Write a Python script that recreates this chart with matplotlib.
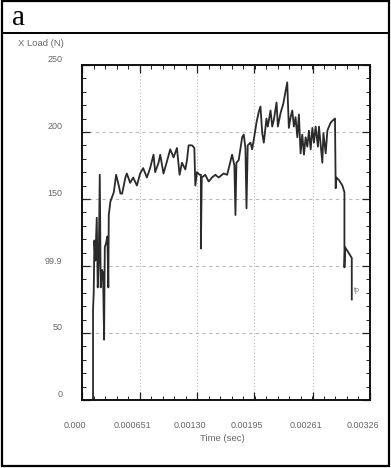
import numpy as np
import matplotlib
matplotlib.use("Agg")
import matplotlib.pyplot as plt
from matplotlib.ticker import FixedLocator, MultipleLocator
from matplotlib.transforms import ScaledTranslation
from matplotlib.patches import Rectangle
from matplotlib.lines import Line2D

# Datos (tiempo en s, carga en N)
time_s = [
    0.000125, 0.000125, 0.000133, 0.000140, 0.000151, 0.000167, 0.000178, 0.000189,
    0.000201, 0.000212, 0.000227, 0.000238, 0.000250, 0.000258, 0.000272, 0.000287,
    0.000298, 0.000303, 0.000321, 0.000332, 0.000360, 0.000378, 0.000386, 0.000416,
    0.000435, 0.000454, 0.000473, 0.000491, 0.000507, 0.000545, 0.000579, 0.000621,
    0.000658, 0.000692, 0.000734, 0.000771, 0.000809, 0.000828, 0.000866, 0.000885,
    0.000922, 0.000961, 0.000998, 0.001036, 0.001074, 0.001104, 0.001131, 0.001169,
    0.001188, 0.001206, 0.001245, 0.001271, 0.001282, 0.001301, 0.001331, 0.001345,
    0.001345, 0.001355, 0.001395, 0.001433, 0.001471, 0.001509, 0.001546, 0.001603,
    0.001642, 0.001698, 0.001724, 0.001736, 0.001747, 0.001773, 0.001812, 0.001830,
    0.001849, 0.001861, 0.001875, 0.001906, 0.001925, 0.001943, 0.001974, 0.002000,
    0.002019, 0.002039, 0.002057, 0.002087, 0.002102, 0.002133, 0.002152, 0.002170,
    0.002201, 0.002216, 0.002246, 0.002277, 0.002303, 0.002322, 0.002340, 0.002360,
    0.002379, 0.002397, 0.002416, 0.002436, 0.002454, 0.002473, 0.002492, 0.002511,
    0.002530, 0.002549, 0.002567, 0.002587, 0.002606, 0.002624, 0.002643, 0.002669,
    0.002681, 0.002719, 0.002731, 0.002757, 0.002776, 0.002794, 0.002814, 0.002844,
    0.002862, 0.002870, 0.002878, 0.002908, 0.002946, 0.002969, 0.002969, 0.002976,
    0.003014, 0.003052, 0.003052,
]
load_n = [
    0, 67, 81, 119, 104, 136, 84, 102,
    168, 84, 97, 95, 45, 114, 117, 122,
    84, 138, 148, 150, 155, 164, 168, 160,
    154, 154, 160, 166, 169, 162, 166, 160,
    169, 173, 166, 173, 183, 170, 177, 183,
    169, 178, 187, 181, 188, 168, 177, 172,
    179, 190, 190, 188, 160, 170, 168, 168,
    113, 166, 168, 163, 166, 168, 166, 169,
    168, 183, 175, 138, 177, 179, 196, 198,
    188, 143, 190, 192, 187, 194, 207, 215,
    219, 199, 192, 210, 204, 216, 204, 209,
    222, 204, 214, 221, 230, 237, 203, 211,
    216, 204, 211, 196, 213, 184, 198, 183,
    196, 189, 201, 187, 203, 192, 204, 189,
    204, 177, 199, 184, 201, 204, 207, 209,
    210, 158, 166, 164, 160, 155, 99, 114,
    110, 106, 75,
]

x_ticks = [0.0, 0.000651, 0.00130, 0.00195, 0.00261, 0.00326]
x_tick_labels = ["0.000", "0.000651", "0.00130", "0.00195", "0.00261", "0.00326"]
y_ticks = [0, 50, 99.9, 150, 200, 250]
y_tick_labels = ["0", "50", "99.9", "150", "200", "250"]

plt.rcParams["font.family"] = ["Liberation Sans", "DejaVu Sans"]
GREY = "#666666"

fig = plt.figure(figsize=(3.91, 4.68), dpi=100)
ax = fig.add_axes([0.2097, 0.1453, 0.737, 0.716])

ax.plot(time_s, load_n, color="#2a2a2a", linewidth=1.3)
ax.text(0.003075, 82, "tp", fontsize=5, color="#777777", va="center")

ax.set_xlim(0, 0.00326)
ax.set_ylim(0, 250)

ax.xaxis.set_major_locator(FixedLocator(x_ticks))
ax.xaxis.set_minor_locator(MultipleLocator(0.000651 / 5))
ax.set_xticklabels(x_tick_labels)
ax.yaxis.set_major_locator(FixedLocator(y_ticks))
ax.yaxis.set_minor_locator(MultipleLocator(10))
ax.set_yticklabels(y_tick_labels)

ax.tick_params(which="both", direction="in", top=True, right=True, color="#222222")
ax.tick_params(which="major", length=6, width=0.9, labelsize=6.5, labelcolor=GREY)
ax.tick_params(which="minor", length=3, width=0.7)
ax.tick_params(axis="y", pad=14)
ax.tick_params(axis="x", pad=15)

# desplazar etiquetas como en el original
for lab in ax.get_xticklabels():
    lab.set_transform(lab.get_transform() + ScaledTranslation(-7 / 100, 0, fig.dpi_scale_trans))
for lab in ax.get_yticklabels():
    lab.set_transform(lab.get_transform() + ScaledTranslation(0, 6 / 100, fig.dpi_scale_trans))

for yv in y_ticks[1:-1]:
    ax.axhline(yv, color="#bbbbbb", linewidth=0.8, linestyle=(0, (3, 3)), zorder=0)
for xv in x_ticks[1:-1]:
    ax.axvline(xv, color="#bbbbbb", linewidth=0.8, linestyle=(0, (1, 2)), zorder=0)

for sp in ax.spines.values():
    sp.set_linewidth(1.4)
    sp.set_color("#111111")

fig.text(0.046, 0.906, "X Load (N)", fontsize=6.8, color=GREY, va="center", ha="left")
fig.text(0.568, 0.064, "Time (sec)", fontsize=6.8, color=GREY, va="center", ha="center")
fig.text(0.03, 0.962, "a", fontsize=21, family=["Liberation Serif", "DejaVu Serif"],
         va="center", ha="left")

# marco exterior y linea de cabecera
fig.add_artist(Rectangle((0.004, 0.004), 0.992, 0.993, transform=fig.transFigure,
                         fill=False, edgecolor="black", linewidth=1.6))
fig.add_artist(Line2D([0.004, 0.996], [0.9295, 0.9295], transform=fig.transFigure,
                      color="black", linewidth=1.4))

fig.savefig("out.png", dpi=100)
